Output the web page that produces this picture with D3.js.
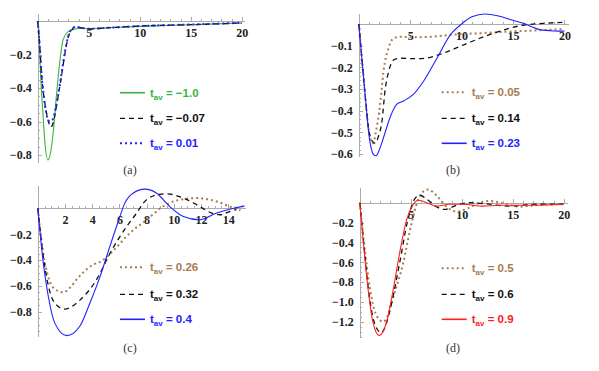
<!DOCTYPE html>
<html lang="en">
<head>
<meta charset="UTF-8">
<title>t_av panels</title>
<script src="https://cdn.jsdelivr.net/npm/d3@7/dist/d3.min.js"></script>
<style>
  body { margin: 0; background: #fff; }
  .axis path, .axis line { stroke: #aaa; stroke-width: 1; shape-rendering: crispEdges; }
  .curve { fill: none; }
  .leg { font-family: "Liberation Sans", Arial, sans-serif; font-weight: bold; font-size: 11.5px; }
  .cap { font-family: "Liberation Serif", "Times New Roman", serif; font-size: 12px; fill: #333; }
</style>
</head>
<body>
<div id="chart"></div>
<script>
// ---- data ----
// panel (a)
const aXTicks = [5, 10, 15, 20]
const aYTicks = [-0.2, -0.4, -0.6, -0.8]
const aLabels = ['−1.0', '−0.07', '0.01']
const aGreen = [[0,0],[0.16,-0.13],[0.29,-0.33],[0.49,-0.53],[0.71,-0.73],[1.0,-0.83],[1.25,-0.79],[1.53,-0.66],[1.86,-0.43],[2.19,-0.23],[2.5,-0.11],[3.0,-0.062],[3.5,-0.05],[4,-0.045],[5,-0.045],[7,-0.04],[10,-0.032],[15,-0.022],[20,-0.012]]
const aDashed = [[0,0],[0.2,-0.15],[0.39,-0.33],[0.6,-0.45],[0.81,-0.53],[1.05,-0.6],[1.3,-0.633],[1.55,-0.6],[1.86,-0.5],[2.35,-0.32],[2.68,-0.19],[3.0,-0.094],[3.33,-0.054],[3.7,-0.035],[4.2,-0.04],[5,-0.048],[7,-0.04],[10,-0.03],[15,-0.022],[20,-0.012]]
const aDotted = [[0,0],[0.2,-0.15],[0.39,-0.33],[0.6,-0.45],[0.81,-0.54],[1.0,-0.59],[1.2,-0.6],[1.45,-0.59],[1.7,-0.54],[1.95,-0.46],[2.35,-0.31],[2.68,-0.18],[3.0,-0.09],[3.33,-0.05],[3.7,-0.035],[4.2,-0.04],[5,-0.046],[7,-0.04],[10,-0.03],[15,-0.021],[20,-0.011]]

// panel (b)
const bXTicks = [5, 10, 15, 20]
const bYTicks = [-0.1, -0.2, -0.3, -0.4, -0.5, -0.6]
const bLabels = ['0.05', '0.14', '0.23']
const bBrown = [[0,0],[0.3,-0.16],[0.62,-0.33],[0.94,-0.48],[1.2,-0.54],[1.4,-0.55],[1.65,-0.5],[2.08,-0.37],[2.4,-0.22],[2.9,-0.11],[3.38,-0.066],[4,-0.059],[5.6,-0.061],[7.5,-0.057],[9.5,-0.048],[12,-0.042],[14.7,-0.035],[17,-0.03],[20,-0.023]]
const bDashed = [[0,0],[0.3,-0.16],[0.62,-0.33],[0.94,-0.48],[1.3,-0.54],[1.6,-0.55],[1.9,-0.52],[2.25,-0.45],[2.57,-0.3],[2.9,-0.22],[3.38,-0.166],[4,-0.158],[5.5,-0.16],[6.6,-0.157],[8.2,-0.135],[10.5,-0.09],[13.1,-0.043],[15.7,-0.008],[18,0.003],[20,0.008]]
const bBlue = [[0,0],[0.3,-0.16],[0.62,-0.33],[1.04,-0.53],[1.4,-0.6],[1.69,-0.608],[2.0,-0.58],[2.4,-0.525],[3.05,-0.43],[3.7,-0.37],[4.35,-0.355],[5.3,-0.325],[6.3,-0.264],[7.6,-0.158],[8.9,-0.05],[10,0.0],[11,0.033],[12.3,0.046],[13.5,0.038],[15,0.017],[16,0.003],[17.6,-0.026],[19,-0.032],[20,-0.033]]

// panel (c)
const cXTicks = [2, 4, 6, 8, 10, 12, 14]
const cYTicks = [-0.2, -0.4, -0.6, -0.8]
const cLabels = ['0.26', '0.32', '0.4']
const cBrown = [[0,0],[0.4,-0.35],[0.77,-0.53],[1.2,-0.62],[1.88,-0.65],[2.4,-0.61],[2.86,-0.55],[3.84,-0.45],[4.8,-0.4],[5.8,-0.3],[6.78,-0.19],[8,-0.09],[9.2,0.014],[10.2,0.06],[11.7,0.079],[13.15,0.053],[14.1,0.014],[14.9,-0.017]]
const cDashed = [[0,0],[0.4,-0.37],[0.9,-0.65],[1.4,-0.75],[2.0,-0.78],[2.5,-0.76],[3.1,-0.71],[4.33,-0.55],[5.3,-0.35],[6.54,-0.14],[7.27,-0.037],[7.76,0.04],[8.74,0.104],[9.48,0.112],[10.7,0.079],[11.7,0.027],[12.8,-0.037],[13.4,-0.05],[14.1,-0.025],[14.6,-0.01]]
const cBlue = [[0,0],[0.4,-0.42],[0.77,-0.68],[1.26,-0.89],[2.12,-0.985],[3.1,-0.91],[3.84,-0.73],[4.57,-0.53],[5.3,-0.295],[6.04,-0.063],[6.4,0.04],[7.0,0.117],[7.88,0.148],[8.74,0.117],[9.7,0.014],[10.7,-0.063],[11.9,-0.089],[13.15,-0.037],[14.4,0.0],[15.2,0.019]]

// panel (d)
const dXTicks = [5, 10, 15, 20]
const dYTicks = [-0.2, -0.4, -0.6, -0.8, -1.0, -1.2]
const dLabels = ['0.5', '0.6', '0.9']
const dBrown = [[0,0],[0.5,-0.48],[1.14,-0.95],[1.7,-1.15],[2.3,-1.2],[2.7,-1.15],[3.1,-1.01],[4.25,-0.61],[5.07,-0.21],[5.7,0.025],[6.2,0.11],[6.7,0.133],[7.5,0.075],[8.5,-0.04],[9.5,-0.09],[10.5,-0.06],[11.8,0.0],[12.7,0.018],[14.1,-0.008],[15.7,-0.04],[17.3,-0.025],[20,-0.015]]
const dDashed = [[0,0],[0.4,-0.42],[0.82,-0.85],[1.4,-1.2],[2.1,-1.31],[2.5,-1.25],[2.9,-1.11],[3.9,-0.61],[4.7,-0.176],[5.4,0.04],[5.9,0.075],[6.5,0.04],[7.5,-0.04],[8.3,-0.068],[9.5,-0.025],[10.8,0.0],[12.7,-0.015],[14.7,-0.035],[17.3,-0.015],[20,-0.015]]
const dRed = [[0,0],[0.33,-0.38],[0.82,-0.88],[1.3,-1.21],[1.9,-1.34],[2.6,-1.21],[3.27,-0.88],[3.9,-0.51],[4.58,-0.176],[5.2,-0.025],[5.7,0.025],[6.37,0.008],[7.5,-0.035],[8.8,-0.015],[10.1,-0.015],[12.1,-0.035],[13.7,-0.025],[17,-0.025],[20,-0.015]]

// line styles
const green = '#3cb43c', brown = '#a87c50', blue = '#2222ff', red = '#ff2020', black = '#111'
const solid = { dash: null, w: 1.1 }
const dashed = { dash: '5,4', w: 1.3 }
const dotted = { dash: '2,3', w: 2 }

// layout per panel (pixel positions)
const panels = [
  { x0: 37.7, kx: 10.2, xmax: 20.3, xMinor: 1, zero: 21, ky: 167.5, yTop: 0.045, yBot: -0.845, yMinor: 0.05,
    xTicks: aXTicks, yTicks: aYTicks, labels: aLabels, cap: '(a)', capX: 130, capY: 170, legX: 120, legY: [92.7, 118.3, 143.3],
    series: [[aGreen, green, solid], [aDashed, black, dashed], [aDotted, blue, dotted]] },
  { x0: 358.8, kx: 10.28, xmax: 20.4, xMinor: 1, zero: 24, ky: 216.7, yTop: 0.05, yBot: -0.61, yMinor: 0.02,
    xTicks: bXTicks, yTicks: bYTicks, labels: bLabels, cap: '(b)', capX: 453, capY: 170, legX: 441.7, legY: [92.3, 118.3, 143.3],
    series: [[bBrown, brown, dotted], [bDashed, black, dashed], [bBlue, blue, solid]] },
  { x0: 37.8, kx: 13.6, xmax: 15.3, xMinor: 0.5, zero: 208.3, ky: 129.3, yTop: 0.18, yBot: -0.99, yMinor: 0.05,
    xTicks: cXTicks, yTicks: cYTicks, labels: cLabels, cap: '(c)', capX: 130, capY: 348, legX: 120, legY: [267.3, 294.3, 319.3],
    series: [[cBrown, brown, dotted], [cDashed, black, dashed], [cBlue, blue, solid]] },
  { x0: 359.8, kx: 10.2, xmax: 20.4, xMinor: 1, zero: 202.7, ky: 99.2, yTop: 0.15, yBot: -1.36, yMinor: 0.05,
    xTicks: dXTicks, yTicks: dYTicks, labels: dLabels, cap: '(d)', capX: 453, capY: 348, legX: 441.7, legY: [268.3, 294.3, 319.3],
    series: [[dBrown, brown, dotted], [dDashed, black, dashed], [dRed, red, solid]] }
]

const svg = d3.select('#chart').append('svg').attr('width', 599).attr('height', 371)

panels.forEach(p => {
  const x = d3.scaleLinear().domain([0, p.xmax]).range([p.x0, p.x0 + p.kx * p.xmax])
  const y = d3.scaleLinear().domain([p.yTop, p.yBot]).range([p.zero - p.yTop * p.ky, p.zero - p.yBot * p.ky])
  const g = svg.append('g')

  // minor ticks
  const xMinorTicks = d3.range(p.xMinor, p.xmax, p.xMinor)
  g.append('g').attr('class', 'axis').attr('transform', `translate(0,${y(0)})`)
    .call(d3.axisBottom(x).tickValues(xMinorTicks).tickSize(-2).tickSizeOuter(0).tickFormat(''))
  const yMinorTicks = d3.range(-p.yMinor, p.yBot, -p.yMinor)
  g.append('g').attr('class', 'axis').attr('transform', `translate(${x(0)},0)`)
    .call(d3.axisLeft(y).tickValues(yMinorTicks).tickSize(-2).tickSizeOuter(0).tickFormat(''))

  // major ticks with labels
  const xa = g.append('g').attr('class', 'axis').attr('transform', `translate(0,${y(0)})`)
    .call(d3.axisBottom(x).tickValues(p.xTicks).tickSize(-4).tickSizeOuter(0).tickPadding(7.5).tickFormat(d3.format('d')))
  const ya = g.append('g').attr('class', 'axis').attr('transform', `translate(${x(0)},0)`)
    .call(d3.axisLeft(y).tickValues(p.yTicks).tickSize(-4).tickSizeOuter(0).tickPadding(6).tickFormat(d3.format('.1f')))
  ;[xa, ya].forEach(a => a.selectAll('text')
    .style('font-family', '"Liberation Serif", "Times New Roman", serif')
    .style('font-weight', 'bold').style('font-size', '12px').style('fill', '#222'))

  const line = d3.line().x(d => x(d[0])).y(d => y(d[1])).curve(d3.curveMonotoneX)
  p.series.forEach(([data, color, st]) => {
    g.append('path').attr('class', 'curve').attr('d', line(data))
      .attr('stroke', color).attr('stroke-width', st.w).attr('stroke-dasharray', st.dash)
  })

  // legend
  p.series.forEach(([data, color, st], i) => {
    const ly = p.legY[i]
    g.append('line').attr('x1', p.legX).attr('x2', p.legX + 25).attr('y1', ly).attr('y2', ly)
      .attr('stroke', color).attr('stroke-width', st === solid ? 1.6 : st.w).attr('stroke-dasharray', st.dash)
    const t = g.append('text').attr('class', 'leg').attr('x', p.legX + 30).attr('y', ly + 4).attr('fill', color)
    t.append('tspan').text('t')
    t.append('tspan').attr('dy', 3).attr('font-size', '8px').text('av')
    t.append('tspan').attr('dy', -3).text(' = ' + p.labels[i])
  })

  g.append('text').attr('class', 'cap').attr('x', p.capX).attr('y', p.capY + 4)
    .attr('text-anchor', 'middle').text(p.cap)
})
</script>
</body>
</html>
